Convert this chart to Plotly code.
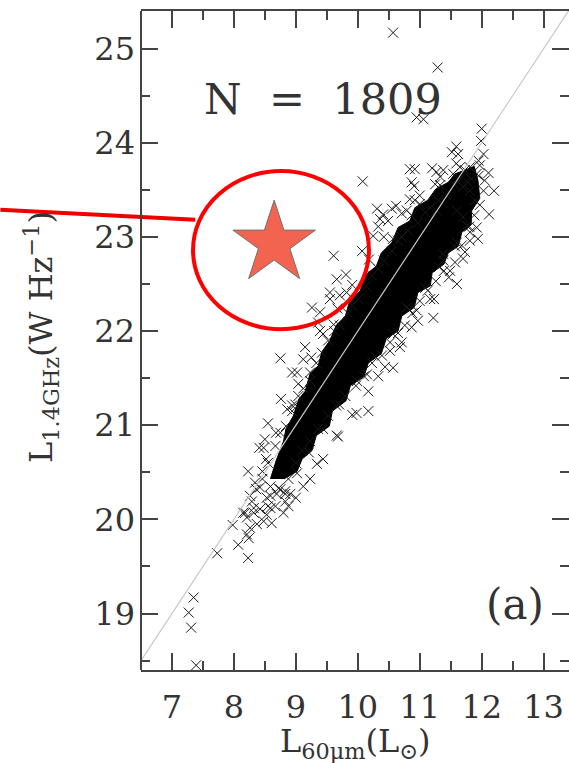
import plotly.graph_objects as go

# ---------------- data ----------------
x_tick_vals = [7, 8, 9, 10, 11, 12, 13]
y_tick_vals = [19, 20, 21, 22, 23, 24, 25]

# envelope of the solid (saturated) core of the 1809-source cloud
core_x = [8.59, 8.68, 8.80, 8.84, 8.96, 9.05, 9.15, 9.23, 9.36, 9.42, 9.55, 9.65, 9.80, 9.86,
          10.04, 10.13, 10.30, 10.38, 10.55, 10.65, 10.84, 10.92, 11.13, 11.26, 11.46, 11.57,
          11.73, 11.88,
          11.94, 11.97, 11.84, 11.83, 11.68, 11.62, 11.46, 11.39, 11.20, 11.17, 10.97, 10.91,
          10.71, 10.65, 10.46, 10.38, 10.17, 10.10, 9.88, 9.81, 9.59, 9.54, 9.33, 9.26, 9.10,
          9.02, 8.81]
core_y = [20.43, 20.62, 20.83, 20.96, 21.10, 21.28, 21.36, 21.55, 21.63, 21.78, 21.90, 22.06,
          22.16, 22.30, 22.43, 22.60, 22.69, 22.83, 22.94, 23.10, 23.17, 23.31, 23.39, 23.51,
          23.58, 23.67, 23.71, 23.75,
          23.60, 23.41, 23.28, 23.13, 23.05, 22.90, 22.83, 22.71, 22.62, 22.48, 22.41, 22.25,
          22.16, 22.00, 21.92, 21.76, 21.66, 21.52, 21.42, 21.26, 21.15, 20.99, 20.89, 20.73,
          20.64, 20.51, 20.43]

# individually resolved sources (outliers)
out_x = [10.57, 11.29, 10.95, 11.06, 12.00, 11.99, 11.59, 11.62, 12.03, 11.95, 12.11, 10.84, 10.92,
         10.87, 11.27, 11.38, 11.25, 11.33, 11.65, 11.73, 11.81, 11.54, 11.92, 11.78, 10.08, 11.97,
         11.81, 11.95, 12.03, 11.70, 10.84, 10.92, 11.00, 10.31, 10.41, 10.55, 10.36, 10.49, 10.79,
         10.87, 11.17, 11.27, 11.60, 11.70, 11.76, 11.92, 11.81, 11.73, 11.60, 10.25, 9.61, 10.57,
         10.71, 11.38, 9.66, 9.55, 9.71, 9.82, 9.26, 9.39, 9.39, 9.61, 9.12, 9.02, 11.60, 11.17,
         10.87, 10.57, 10.33, 10.15, 10.52, 10.68, 10.79, 10.95, 11.38, 11.49, 11.22, 8.75, 9.23,
         9.98, 10.17, 9.66, 8.50, 8.48, 9.34, 9.12, 8.91, 8.99, 8.94, 8.29, 8.18, 8.32, 8.53, 8.61,
         8.48, 8.37, 8.21, 8.26, 8.21, 8.24, 8.07, 8.23, 7.98, 7.73, 8.15, 8.32, 8.42, 7.35, 7.27,
         7.31, 7.39, 8.53, 8.69, 8.83, 8.88, 8.59, 8.42, 8.59, 8.59, 8.72, 8.46, 8.83]
out_y = [25.17, 24.80, 24.27, 24.25, 24.15, 24.02, 23.96, 23.88, 23.88, 23.81, 23.68, 23.72, 23.72,
         23.58, 23.69, 23.71, 23.56, 23.55, 23.74, 23.71, 23.74, 23.67, 23.67, 23.58, 23.59, 23.76,
         23.63, 23.65, 23.49, 23.53, 23.40, 23.39, 23.35, 23.30, 23.24, 23.30, 23.19, 23.17, 23.28,
         23.23, 23.31, 23.28, 23.28, 23.21, 23.12, 23.10, 22.96, 22.84, 22.94, 23.01, 22.80, 22.98,
         23.00, 22.82, 22.55, 22.41, 22.38, 22.41, 22.25, 22.20, 22.00, 22.07, 21.70, 21.56, 22.50,
         22.34, 22.04, 21.61, 21.52, 21.54, 21.79, 21.83, 22.25, 22.22, 22.75, 22.64, 22.14, 21.71,
         21.47, 21.13, 21.15, 20.89, 20.85, 20.76, 20.59, 20.35, 20.27, 21.22, 21.15, 20.19, 20.07,
         20.07, 20.05, 19.96, 19.98, 19.95, 20.02, 19.91, 19.84, 19.80, 19.73, 19.59, 19.94, 19.64,
         20.07, 20.12, 20.11, 19.17, 19.01, 18.85, 18.45, 20.23, 20.27, 20.27, 20.14, 20.12, 20.34,
         20.35, 20.25, 20.33, 20.43, 20.19]

# sources crowding the edge of the core
fringe_x = [8.26, 8.36, 8.46, 8.55, 8.67, 8.75, 8.84, 8.94, 9.04, 9.12, 9.23, 9.33, 9.42, 9.52,
            9.62, 9.71, 9.84, 9.91, 10.00, 10.13, 10.23, 10.33, 10.42, 10.55, 10.65, 10.81, 10.97,
            11.09, 11.30, 11.42, 11.57, 11.65,
            8.55, 8.75, 8.88, 9.00, 9.10, 9.23, 9.36, 9.52, 9.65, 9.80, 9.97, 10.10, 10.23, 10.39,
            10.52, 10.65, 10.76, 10.88, 11.00, 11.13, 11.26, 11.39, 11.57, 11.68, 11.81, 11.88,
            11.89, 11.81]
fringe_y = [20.25, 20.32, 20.51, 20.60, 20.78, 20.92, 20.99, 21.21, 21.31, 21.39, 21.56, 21.66,
            21.77, 21.90, 22.00, 22.06, 22.19, 22.27, 22.34, 22.48, 22.59, 22.66, 22.75, 22.85,
            22.96, 23.07, 23.15, 23.26, 23.39, 23.45, 23.55, 23.62,
            20.14, 20.32, 20.43, 20.60, 20.73, 20.83, 20.96, 21.10, 21.21, 21.31, 21.42, 21.52,
            21.66, 21.74, 21.88, 21.98, 22.06, 22.19, 22.32, 22.43, 22.53, 22.64, 22.73, 22.91,
            23.05, 23.23, 23.39, 23.49]

# looser halo of sources around the core (upper-left side, then lower-right side)
halo_x = [8.34, 8.52, 8.68, 8.86, 9.04, 9.25, 9.44, 9.67, 9.91, 10.18, 10.42, 10.71, 11.00, 11.33,
          11.59,
          8.23, 8.41, 8.55, 8.76, 8.94, 9.15, 9.36, 9.55, 9.81, 10.07, 10.33, 10.62, 10.91, 11.20,
          11.52,
          8.67, 8.83, 9.02, 9.21, 9.44, 9.70, 9.99, 10.28, 10.57, 10.83, 11.09, 11.31, 11.57, 11.80,
          11.97, 12.05,
          8.80, 9.00, 9.23, 9.44, 9.68, 9.91, 10.17, 10.44, 10.71, 10.97, 11.23, 11.47, 11.70, 11.94,
          12.12, 12.20]
halo_y = [20.39, 20.64, 20.92, 21.17, 21.44, 21.72, 21.97, 22.24, 22.49, 22.76, 23.00, 23.25, 23.44,
          23.64, 23.78,
          20.51, 20.76, 21.02, 21.28, 21.56, 21.83, 22.09, 22.34, 22.60, 22.85, 23.11, 23.33, 23.54,
          23.73, 23.90,
          20.14, 20.30, 20.49, 20.71, 20.96, 21.22, 21.47, 21.73, 21.97, 22.23, 22.46, 22.68, 22.90,
          23.11, 23.34, 23.60,
          20.07, 20.23, 20.43, 20.64, 20.88, 21.11, 21.36, 21.62, 21.88, 22.11, 22.34, 22.57, 22.77,
          22.98, 23.24, 23.49]

# one-to-one reference relation L1.4GHz = L60um + 12
line_x = [6.5, 13.5]
line_y = [18.5, 25.5]

# highlighted object (star) and its ring
star_x = [8.65]
star_y = [22.93]
ring_x = [7.34, 10.18]
ring_y = [22.02, 23.70]

N_text = "N\u00a0\u00a0=\u00a0\u00a01809"
panel_text = "(a)"

# ---------------- figure ----------------
FONT = "DejaVu Serif"
TXT = "#333333"
AX = "#444444"

fig = go.Figure()

fig.add_trace(go.Scatter(x=core_x, y=core_y, mode="lines", fill="toself",
                         fillcolor="#000000", line=dict(color="#000000", width=1),
                         hoverinfo="skip"))

cross = dict(symbol="x-thin", size=10, color="#1a1a1a",
             line=dict(width=1, color="#1a1a1a"))
fig.add_trace(go.Scatter(x=halo_x, y=halo_y, mode="markers", marker=cross))
fig.add_trace(go.Scatter(x=fringe_x, y=fringe_y, mode="markers", marker=cross))
fig.add_trace(go.Scatter(x=out_x, y=out_y, mode="markers", marker=cross))

fig.add_trace(go.Scatter(x=line_x, y=line_y, mode="lines",
                         line=dict(color="#c8c8c8", width=1.2)))

fig.add_trace(go.Scatter(x=star_x, y=star_y, mode="markers",
                         marker=dict(symbol="star", size=62, color="#f26450",
                                     line=dict(color="#707070", width=1))))

fig.add_shape(type="circle", xref="x", yref="y",
              x0=ring_x[0], x1=ring_x[1], y0=ring_y[0], y1=ring_y[1],
              line=dict(color="#ff0000", width=4), layer="above")
fig.add_shape(type="line", xref="paper", yref="paper",
              x0=-0.3285, y0=0.6985, x1=0.1268, y1=0.6833,
              line=dict(color="#ee0000", width=4), layer="above")
# left frame line
fig.add_shape(type="line", xref="paper", yref="paper", x0=0, x1=0, y0=0, y1=1,
              line=dict(color=AX, width=2), layer="above")

fig.add_annotation(x=9.44, y=24.47, xref="x", yref="y", text=N_text, showarrow=False,
                   font=dict(family=FONT, size=43, color=TXT))
fig.add_annotation(x=12.54, y=19.10, xref="x", yref="y", text=panel_text, showarrow=False,
                   font=dict(family=FONT, size=42, color=TXT))

fig.add_annotation(x=0.5, y=-0.111, xref="paper", yref="paper", showarrow=False,
                   text="L<sub>60\u03bcm</sub>(L<sub>\u2299</sub>)",
                   xanchor="center", yanchor="middle",
                   font=dict(family=FONT, size=32, color=TXT))
fig.add_annotation(x=-0.235, y=0.506, xref="paper", yref="paper", showarrow=False,
                   text="L<sub>1.4GHz</sub>(W Hz<sup>\u22121</sup>)", textangle=-90,
                   xanchor="center", yanchor="middle",
                   font=dict(family=FONT, size=32, color=TXT))

fig.update_xaxes(range=[6.5, 13.41], tickvals=x_tick_vals, ticks="inside", ticklen=17,
                 tickwidth=1.5, tickcolor=AX, showline=True, linecolor=AX, linewidth=2,
                 mirror="ticks", showgrid=False, zeroline=False,
                 minor=dict(dtick=0.5, ticks="inside", ticklen=9, tickwidth=1.5,
                            tickcolor=AX, showgrid=False),
                 tickfont=dict(family=FONT, size=32, color=TXT), ticklabelstandoff=8)
fig.update_yaxes(range=[18.4, 25.4], tickvals=y_tick_vals, ticks="inside", ticklen=17,
                 tickwidth=1.5, tickcolor=AX, showline=False,
                 mirror="ticks", showgrid=False, zeroline=False,
                 minor=dict(dtick=0.5, ticks="inside", ticklen=9, tickwidth=1.5,
                            tickcolor=AX, showgrid=False),
                 tickfont=dict(family=FONT, size=32, color=TXT), ticklabelstandoff=5)

fig.update_layout(width=569, height=763, showlegend=False,
                  margin=dict(l=141, r=0, t=11, b=93, autoexpand=False),
                  plot_bgcolor="white", paper_bgcolor="white")

fig.write_html("out.html")
